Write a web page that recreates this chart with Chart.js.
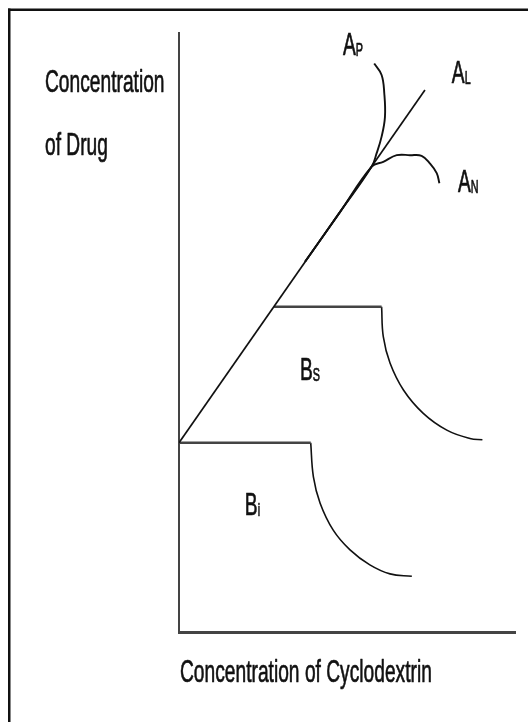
<!DOCTYPE html>
<html>
<head>
<meta charset="utf-8">
<script src="https://cdn.jsdelivr.net/npm/chart.js@4"></script>
<style>
  html, body { margin: 0; padding: 0; background: #fff; }
  canvas { display: block; }
</style>
</head>
<body>
<canvas id="phaseChart" width="528" height="722"></canvas>
<script>
// Phase solubility profiles: drug vs cyclodextrin concentration

// A-type profiles (linear, positive and negative deviation)
const alX = [0, 7.32];
const alY = [3.16, 9.05];
const apX = [3.75, 4.79, 5.735, 5.88, 6.03, 6.13, 6.11, 6.03, 5.81];
const apY = [6.18, 7.01, 7.77, 7.99, 8.27, 8.60, 8.99, 9.30, 9.49];
const anX = [3.75, 4.79, 5.735, 6.08, 6.48, 6.875, 7.22, 7.47, 7.67, 7.75];
const anY = [6.18, 7.01, 7.77, 7.85, 7.96, 7.96, 7.95, 7.82, 7.66, 7.49];

// B-type profiles: plateau, then solubility drops
const bsShelfX = [2.83, 6.03];
const bsShelfY = [5.43, 5.43];
const bsDropX = [6.03, 6.08, 6.28, 6.68, 7.27, 7.97, 8.66, 9.03];
const bsDropY = [5.43, 4.93, 4.49, 4.04, 3.65, 3.37, 3.23, 3.21];
const biShelfX = [0, 3.92];
const biShelfY = [3.16, 3.16];
const biDropX = [3.92, 4.0, 4.20, 4.59, 5.09, 5.68, 6.28, 6.93];
const biDropY = [3.16, 2.59, 2.15, 1.70, 1.37, 1.12, 0.97, 0.93];

// curve names (letter + subscript) and where they sit
const curveNames = [["A", "P"], ["A", "L"], ["A", "N"], ["B", "S"], ["B", "i"]];
const nameX = [4.88, 8.12, 8.30, 3.60, 1.96];
const nameY = [9.63, 9.17, 7.35, 4.21, 1.95];

const yTitle = ["Concentration", "of Drug"];
const xTitle = "Concentration of Cyclodextrin";

const pts = (xs, ys) => xs.map((x, i) => ({ x: x, y: ys[i] }));

const line = (xs, ys, opts) => Object.assign({
  data: pts(xs, ys),
  showLine: true,
  pointRadius: 0,
  borderColor: "#111",
  borderWidth: 1.7,
  tension: 0,
  fill: false
}, opts);

// squeezed Arial-like lettering, lightly stroked for weight
function drawText(ctx, str, x, y, size) {
  ctx.save();
  ctx.translate(x, y);
  ctx.scale(0.6, 1);
  ctx.font = size + 'px "Liberation Sans", Arial, sans-serif';
  ctx.fillStyle = "#111";
  ctx.strokeStyle = "#111";
  ctx.lineWidth = 0.7;
  ctx.lineJoin = "round";
  ctx.textBaseline = "alphabetic";
  ctx.fillText(str, 0, 0);
  ctx.strokeText(str, 0, 0);
  const w = ctx.measureText(str).width * 0.6;
  ctx.restore();
  return w;
}

const textPlugin = {
  id: "textPlugin",
  afterDraw(chart) {
    const ctx = chart.ctx;
    const xs = chart.scales.x, ys = chart.scales.y;
    const area = chart.chartArea;

    // frame
    ctx.save();
    ctx.fillStyle = "#111";
    ctx.fillRect(8, 8.5, 520, 2.5);
    ctx.fillRect(8, 8.5, 2.5, 714);
    ctx.restore();

    // curve names
    curveNames.forEach((n, i) => {
      const px = xs.getPixelForValue(nameX[i]);
      const py = ys.getPixelForValue(nameY[i]);
      const w = drawText(ctx, n[0], px, py, 32);
      drawText(ctx, n[1], px + w, py + 1, 18);
    });

    // axis titles
    drawText(ctx, yTitle[0], 45, 92, 32);
    drawText(ctx, yTitle[1], 45, 155, 32);
    drawText(ctx, xTitle, area.left + 1, area.bottom + 50, 32);
  }
};

const axis = (min, max, bw) => ({
  type: "linear",
  min: min,
  max: max,
  ticks: { display: false },
  grid: { display: false, drawTicks: false },
  border: { display: true, color: "#444", width: bw },
  title: { display: false },
  afterFit(scale) {
    if (scale.isHorizontal()) scale.height = 0; else scale.width = 0;
  }
});

new Chart(document.getElementById("phaseChart"), {
  type: "scatter",
  data: {
    datasets: [
      line(alX, alY, { label: "AL" }),
      line(apX, apY, { label: "AP", tension: 0.4, borderWidth: 1.9 }),
      line(anX, anY, { label: "AN", tension: 0.4, borderWidth: 1.9 }),
      line(bsShelfX, bsShelfY, { label: "BS plateau", borderColor: "#444", borderWidth: 2.5 }),
      line(bsDropX, bsDropY, { label: "BS", tension: 0.4, borderWidth: 1.6 }),
      line(biShelfX, biShelfY, { label: "Bi plateau", borderColor: "#444", borderWidth: 2.5 }),
      line(biDropX, biDropY, { label: "Bi", tension: 0.4, borderWidth: 1.6 })
    ]
  },
  options: {
    responsive: false,
    animation: false,
    layout: { padding: { left: 179, right: 13, top: 33, bottom: 90 } },
    scales: {
      x: axis(0, 10, 3),
      y: axis(0, 10, 2)
    },
    plugins: {
      legend: { display: false },
      tooltip: { enabled: false }
    }
  },
  plugins: [textPlugin]
});
</script>
</body>
</html>
